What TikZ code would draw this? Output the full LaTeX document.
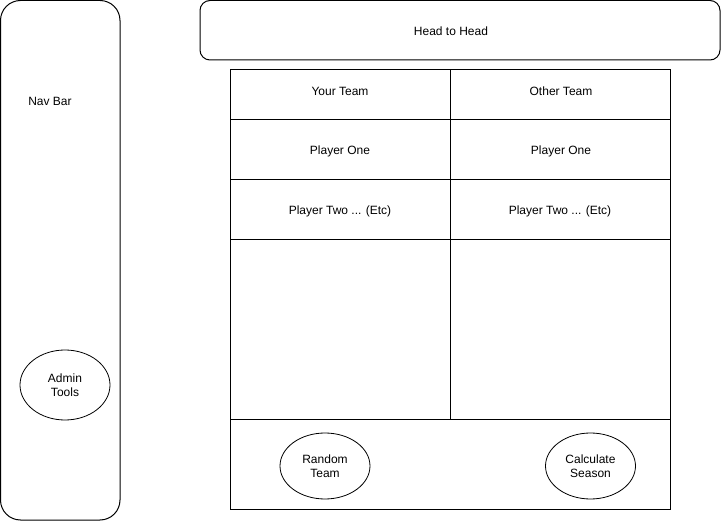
\documentclass[tikz,border=0pt]{standalone}
\usepackage{fontspec}
\setmainfont{Liberation Sans}
\usetikzlibrary{shapes.geometric}
\begin{document}
\begin{tikzpicture}[x=1pt,y=-1pt,
  box/.style={draw=black,line width=1pt},
  lbl/.style={font=\fontsize{12}{14}\selectfont,inner sep=0pt,align=center,yshift=-1pt},
  oval/.style={draw=black,line width=0.8pt,ellipse,minimum width=90pt,minimum height=66pt,inner sep=0pt,align=center,font=\fontsize{12}{14}\selectfont}]
\useasboundingbox[fill=white] (0,0) rectangle (721,521);
% nav bar
\draw[box,rounded corners=20pt] (0.5,0.5) rectangle (120,520);
\node[lbl] (nav) at (50,100) {Nav Bar};
\node[oval,minimum height=70pt] (admin) at (65,385) {Admin\\Tools};
% header
\draw[box,rounded corners=10pt] (200,0.5) rectangle (720,60);
\node[lbl] (head) at (451,30) {Head to Head};
% table
\draw[box] (230,70) rectangle (670,510);
\draw[box] (450,70) -- (450,420);
\draw[box] (230,120) -- (670,120);
\draw[box] (230,180) -- (670,180);
\draw[box] (230,240) -- (670,240);
\draw[box] (230,420) -- (670,420);
\node[lbl] (yt) at (340,90) {Your Team};
\node[lbl] (ot) at (561,90) {Other Team};
\node[lbl] (p1a) at (340,150) {Player One};
\node[lbl] (p1b) at (561,150) {Player One};
\node[lbl] (p2a) at (340,210) {Player Two ... (Etc)};
\node[lbl] (p2b) at (560,210) {Player Two ... (Etc)};
\node[oval] (rand) at (325,466) {Random\\Team};
\node[oval] (calc) at (590.5,466) {Calculate\\Season};
\end{tikzpicture}
\end{document}
